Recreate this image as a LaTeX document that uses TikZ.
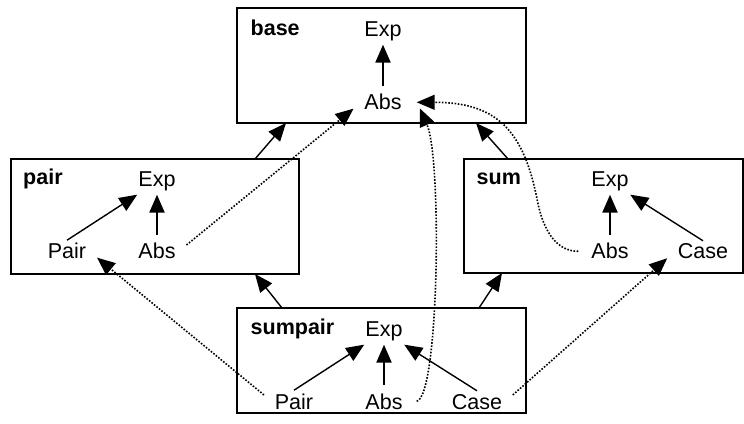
\documentclass[tikz,border=0pt]{standalone}
\usepackage{fontspec}
\setmainfont{Liberation Sans}
\usetikzlibrary{arrows.meta}
\begin{document}
\begin{tikzpicture}[x=1pt,y=1pt,
	font=\fontsize{21.5}{25}\selectfont,
	box/.style={draw,line width=1.4pt,inner sep=0pt,outer sep=0pt},
	title/.style={anchor=base west,inner sep=0pt,font=\fontsize{21.5}{25}\selectfont\bfseries},
	cls/.style={anchor=base,inner sep=3pt},
	inh/.style={line width=1.4pt,-{Triangle[length=18pt,width=15pt]}},
	up/.style={line width=2.2pt,shorten <=5pt,-{Triangle[length=18pt,width=15pt]}},
	dep/.style={line width=1.6pt,dash pattern=on 1.6pt off 1.6pt,shorten <=10pt,shorten >=10pt,-{Triangle[length=18pt,width=15pt]}}]
		\useasboundingbox (0,0) rectangle (744,423);
		% modules
		\node[box,minimum width=289pt,minimum height=115pt] (base) at (381.5,357.5) {};
		\node[box,minimum width=288pt,minimum height=115pt] (pair) at (155,206.5) {};
		\node[box,minimum width=279pt,minimum height=114pt] (sum) at (603.5,207) {};
		\node[box,minimum width=289pt,minimum height=105pt] (sumpair) at (381.5,62.5) {};
		\node[title] (baseT) at (250.5,387) {base};
		\node[title] (pairT) at (23,238) {pair};
		\node[title] (sumT) at (476.5,238) {sum};
		\node[title] (sumpairT) at (250.5,88) {sumpair};
		
		% classes
		\node[cls] (baseExp) at (383,386) {Exp};
		\node[cls] (baseAbs) at (383,313) {Abs};
		\node[cls] (pairExp) at (157,236) {Exp};
		\node[cls] (pairPair) at (67,164) {Pair};
		\node[cls] (pairAbs) at (157,164) {Abs};
		\node[cls] (sumExp) at (610,236) {Exp};
		\node[cls] (sumAbs) at (610,164) {Abs};
		\node[cls] (sumCase) at (703,164) {Case};
		\node[cls] (spExp) at (384,86) {Exp};
		\node[cls] (spPair) at (294,14) {Pair};
		\node[cls] (spAbs) at (384,14) {Abs};
		\node[cls] (spCase) at (477,14) {Case};
		
		\draw[up] (baseAbs) -- (baseExp);
		\draw[up] (pairAbs) -- (pairExp);
		\draw[inh] (pairPair.north) -- (pairExp);
		\draw[up] (sumAbs) -- (sumExp);
		\draw[inh] (sumCase.north) -- (sumExp);
		\draw[inh] (spPair.north) -- (spExp);
		\draw[up] (spAbs) -- (spExp);
		\draw[inh] (spCase.north) -- (spExp);
		
		% module imports
		\draw[inh] ([xshift=-44pt]pair.north east) -- ([xshift=49pt]base.south west);
		\draw[inh] ([xshift=44pt]sum.north west) -- ([xshift=-50pt]base.south east);
		\draw[inh] ([xshift=45pt]sumpair.north west) -- ([xshift=-44pt]pair.south east);
		\draw[inh] ([xshift=-47pt]sumpair.north east) -- ([xshift=38pt]sum.south west);
		
		% refinements
		\draw[dep] (pairAbs.east) -- (baseAbs.west);
		\draw[dep] (spPair.west) -- (pairPair.east);
		\draw[dep] (spCase.east) -- (sumCase.west);
		\draw[dep,shorten <=0pt,shorten >=0pt] ([xshift=11pt]spAbs.east) to[out=13,in=-66,out distance=23pt,in distance=55pt] ([shift={(15pt,-6pt)}]baseAbs.east);
		\draw[dep,shorten <=0pt,shorten >=0pt] ([xshift=-10pt]sumAbs.west) to[out=180,in=-79,out distance=25pt,in distance=25pt] ++(-41pt,51pt) to[out=101,in=0,out distance=71pt,in distance=80pt] ([xshift=12pt]baseAbs.east);
\end{tikzpicture}
\end{document}
